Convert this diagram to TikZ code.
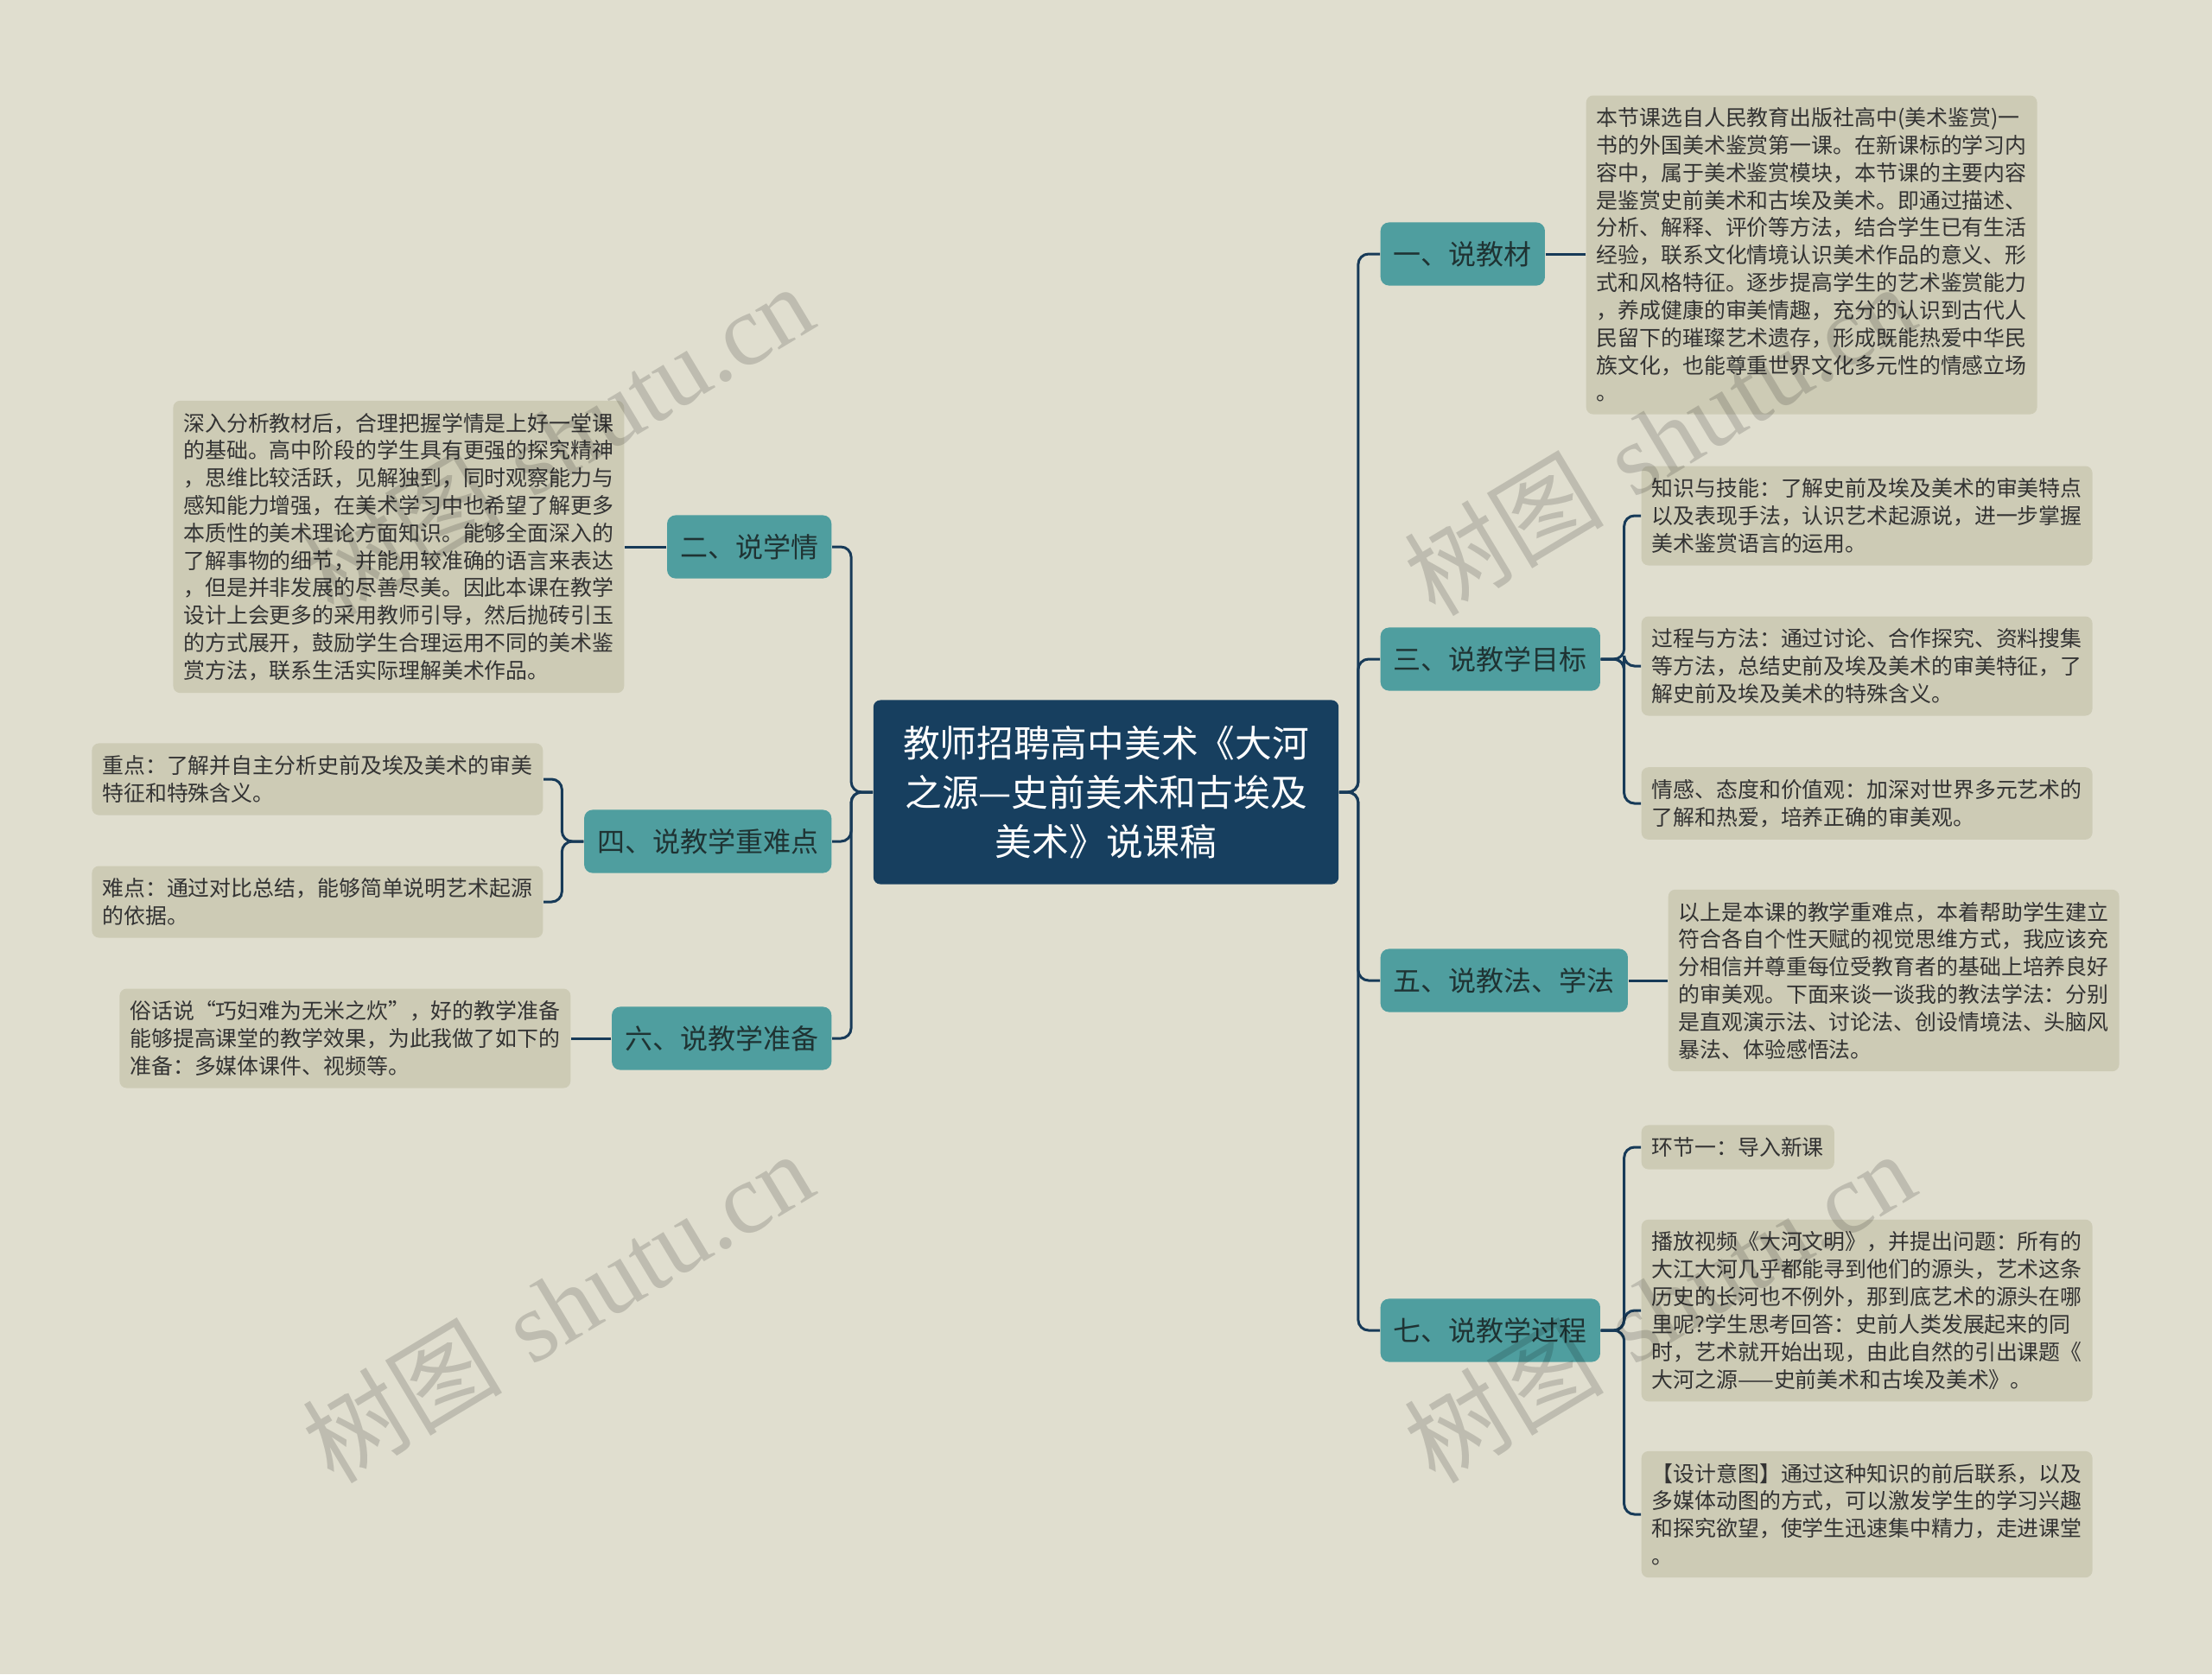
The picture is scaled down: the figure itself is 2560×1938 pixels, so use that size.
\documentclass[tikz,border=0pt]{standalone}
\usepackage{fontspec}
\newfontfamily\cjk{Noto Sans CJK SC}
\newfontfamily\wmlatin{Liberation Serif}
\definecolor{bgcol}{HTML}{E0DECF}
\definecolor{leafcol}{HTML}{CDCBB5}
\definecolor{branchcol}{HTML}{4F9E9F}
\definecolor{rootcol}{HTML}{173F5F}
\definecolor{linkcol}{HTML}{173A58}
\definecolor{leaftext}{HTML}{333333}
\definecolor{branchtext}{HTML}{1F3333}

\begin{document}
\begin{tikzpicture}[x=0.01cm,y=-0.01cm,
    root/.style={fill=rootcol, rounded corners=2.3pt, text=white, align=center,
        font=\cjk\fontsize{12.15pt}{16.2pt}\selectfont,
        minimum width=153.1pt, minimum height=60.6pt, inner sep=0pt},
    branch/.style={fill=branchcol, rounded corners=2.8pt, text=branchtext,
        font=\cjk\fontsize{9.1pt}{11pt}\selectfont,
        minimum height=20.8pt, inner xsep=4.3pt, inner ysep=0pt},
    leaf/.style={fill=leafcol, rounded corners=2.3pt, text=leaftext, align=left,
        font=\cjk\fontsize{7.08pt}{9.05pt}\selectfont,
        inner xsep=3.4pt, inner ysep=4pt},
    link/.style={draw=linkcol, line width=0.85pt, rounded corners=3.4pt},
    wmark/.style={rotate=31, text=black, text opacity=0.15, font=\fontsize{33pt}{40pt}\selectfont}]

    \fill[bgcol] (0,0) rectangle (2560,1938);

    % centre
    \node[root] (root) at (1280,917) {教师招聘高中美术《大河\\之源—史前美术和古埃及\\美术》说课稿};

    % right branches
    \node[branch,anchor=west] (b1) at (1597,294) {一、说教材};
    \node[branch,anchor=west] (b3) at (1597,763) {三、说教学目标};
    \node[branch,anchor=west] (b5) at (1597,1135) {五、说教法、学法};
    \node[branch,anchor=west] (b7) at (1597,1540) {七、说教学过程};

    % left branches
    \node[branch,anchor=east] (b2) at (963,633) {二、说学情};
    \node[branch,anchor=east] (b4) at (963,974) {四、说教学重难点};
    \node[branch,anchor=east] (b6) at (963,1202) {六、说教学准备};

    % leaves
    \node[leaf,anchor=west] (l1) at (1835,295) {本节课选自人民教育出版社高中(美术鉴赏)一\\
        书的外国美术鉴赏第一课。在新课标的学习内\\
        容中，属于美术鉴赏模块，本节课的主要内容\\
        是鉴赏史前美术和古埃及美术。即通过描述、\\
        分析、解释、评价等方法，结合学生已有生活\\
        经验，联系文化情境认识美术作品的意义、形\\
        式和风格特征。逐步提高学生的艺术鉴赏能力\\
        ，养成健康的审美情趣，充分的认识到古代人\\
        民留下的璀璨艺术遗存，形成既能热爱中华民\\
        族文化，也能尊重世界文化多元性的情感立场\\
        。};
    \node[leaf,anchor=east] (l2) at (723,633) {深入分析教材后，合理把握学情是上好一堂课\\
        的基础。高中阶段的学生具有更强的探究精神\\
        ，思维比较活跃，见解独到，同时观察能力与\\
        感知能力增强，在美术学习中也希望了解更多\\
        本质性的美术理论方面知识。能够全面深入的\\
        了解事物的细节，并能用较准确的语言来表达\\
        ，但是并非发展的尽善尽美。因此本课在教学\\
        设计上会更多的采用教师引导，然后抛砖引玉\\
        的方式展开，鼓励学生合理运用不同的美术鉴\\
        赏方法，联系生活实际理解美术作品。};
    \node[leaf,anchor=west] (l3a) at (1899,597) {知识与技能：了解史前及埃及美术的审美特点\\
        以及表现手法，认识艺术起源说，进一步掌握\\
        美术鉴赏语言的运用。};
    \node[leaf,anchor=west] (l3b) at (1899,771) {过程与方法：通过讨论、合作探究、资料搜集\\
        等方法，总结史前及埃及美术的审美特征，了\\
        解史前及埃及美术的特殊含义。};
    \node[leaf,anchor=west] (l3c) at (1899,930) {情感、态度和价值观：加深对世界多元艺术的\\
        了解和热爱，培养正确的审美观。};
    \node[leaf,anchor=east] (l4a) at (629,902) {重点：了解并自主分析史前及埃及美术的审美\\
        特征和特殊含义。};
    \node[leaf,anchor=east] (l4b) at (629,1044) {难点：通过对比总结，能够简单说明艺术起源\\
        的依据。};
    \node[leaf,anchor=west] (l5) at (1930,1135) {以上是本课的教学重难点，本着帮助学生建立\\
        符合各自个性天赋的视觉思维方式，我应该充\\
        分相信并尊重每位受教育者的基础上培养良好\\
        的审美观。下面来谈一谈我的教法学法：分别\\
        是直观演示法、讨论法、创设情境法、头脑风\\
        暴法、体验感悟法。};
    \node[leaf,anchor=east] (l6) at (661,1202) {俗话说“巧妇难为无米之炊”，好的教学准备\\
        能够提高课堂的教学效果，为此我做了如下的\\
        准备：多媒体课件、视频等。};
    \node[leaf,anchor=west] (l7a) at (1899,1328) {环节一：导入新课};
    \node[leaf,anchor=west] (l7b) at (1899,1517) {播放视频《大河文明》，并提出问题：所有的\\
        大江大河几乎都能寻到他们的源头，艺术这条\\
        历史的长河也不例外，那到底艺术的源头在哪\\
        里呢?学生思考回答：史前人类发展起来的同\\
        时，艺术就开始出现，由此自然的引出课题《\\
        大河之源——史前美术和古埃及美术》。};
    \node[leaf,anchor=west] (l7c) at (1899,1753) {【设计意图】通过这种知识的前后联系，以及\\
        多媒体动图的方式，可以激发学生的学习兴趣\\
        和探究欲望，使学生迅速集中精力，走进课堂\\
        。};

    % connectors
    \draw[link] (root.east) -- ++(22,0) |- (b1.west);
    \draw[link] (root.east) -- ++(22,0) |- (b3.west);
    \draw[link] (root.east) -- ++(22,0) |- (b5.west);
    \draw[link] (root.east) -- ++(22,0) |- (b7.west);
    \draw[link] (root.west) -- ++(-25,0) |- (b2.east);
    \draw[link] (root.west) -- ++(-25,0) |- (b4.east);
    \draw[link] (root.west) -- ++(-25,0) |- (b6.east);

    \draw[link] (b1.east) -- (b1.east -| l1.west);
    \draw[link] (b2.west) -- (b2.west -| l2.east);
    \draw[link] (b5.east) -- (b5.east -| l5.west);
    \draw[link] (b6.west) -- (b6.west -| l6.east);
    \draw[link] (b3.east) -- ++(27,0) |- (l3a.west);
    \draw[link] (b3.east) -- ++(27,0) |- (l3b.west);
    \draw[link] (b3.east) -- ++(27,0) |- (l3c.west);
    \draw[link] (b4.west) -- ++(-25,0) |- (l4a.east);
    \draw[link] (b4.west) -- ++(-25,0) |- (l4b.east);
    \draw[link] (b7.east) -- ++(27,0) |- (l7a.west);
    \draw[link] (b7.east) -- ++(27,0) |- (l7b.west);
    \draw[link] (b7.east) -- ++(27,0) |- (l7c.west);

    % watermark
    \node[wmark] (wm1) at (645,508) {{\cjk 树图} {\wmlatin shutu.cn}};
    \node[wmark] (wm2) at (645,1512) {{\cjk 树图} {\wmlatin shutu.cn}};
    \node[wmark] (wm3) at (1920,508) {{\cjk 树图} {\wmlatin shutu.cn}};
    \node[wmark] (wm4) at (1920,1512) {{\cjk 树图} {\wmlatin shutu.cn}};
\end{tikzpicture}
\end{document}
